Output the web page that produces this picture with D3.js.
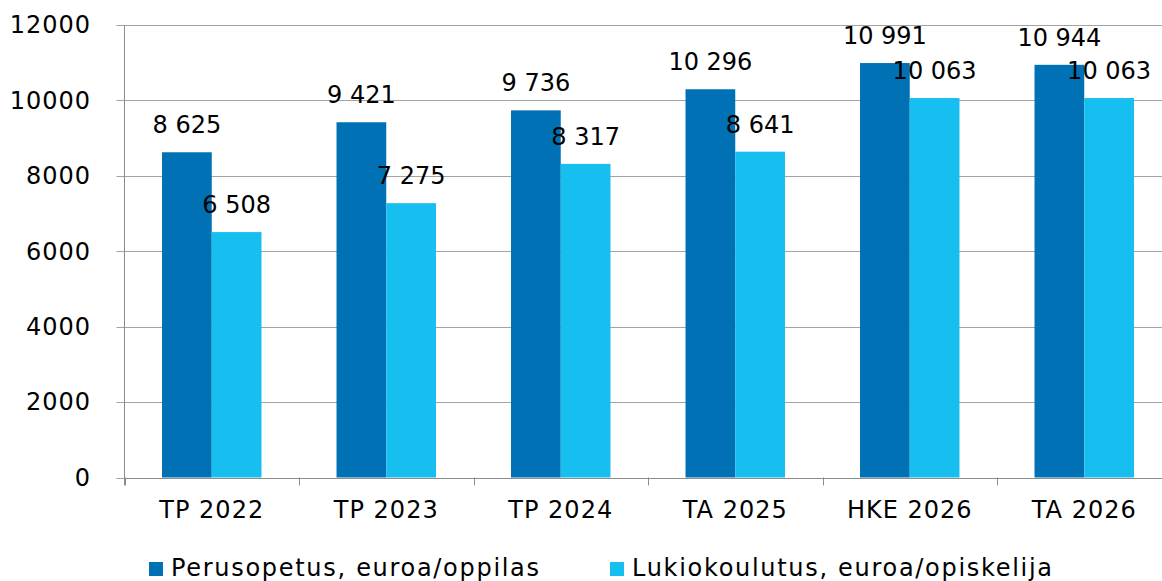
<!DOCTYPE html>
<html>
<head>
<meta charset="utf-8">
<script src="https://cdn.jsdelivr.net/npm/d3@7"></script>
<style>
	body { margin: 0; background: #fff; }
	text { font-family: "DejaVu Sans", sans-serif; fill: #000; }
</style>
</head>
<body>
<div id="container"></div>
<script>

var categories = ["TP 2022", "TP 2023", "TP 2024", "TA 2025", "HKE 2026", "TA 2026"];
var seriesNames = ["Perusopetus, euroa/oppilas", "Lukiokoulutus, euroa/opiskelija"];
var perusopetus = [8625, 9421, 9736, 10296, 10991, 10944];
var lukiokoulutus = [6508, 7275, 8317, 8641, 10063, 10063];
var yTicks = [0, 2000, 4000, 6000, 8000, 10000, 12000];
var colors = ["#0071b5", "#16bfef"];


function drawgrid(svg, x, y) {
	// horizontal gridlines incl. the little tick stubs left of the axis
	svg.selectAll("gridline")
	   .data(yTicks)
	   .enter()
	   .append("line")
	   .attr("x1", x.range()[0] - 8)
	   .attr("x2", x.range()[1])
	   .attr("y1", function(d) { return Math.round(y(d)) + 0.5 })
	   .attr("y2", function(d) { return Math.round(y(d)) + 0.5 })
	   .attr("stroke", "#a3a3a3")
	   .attr("stroke-width", 1);

	svg.selectAll("ylabel")
	   .data(yTicks)
	   .enter()
	   .append("text")
	   .attr("x", 91)
	   .attr("y", function(d) { return y(d) })
	   .attr("dy", "0.35em")
	   .attr("text-anchor", "end")
	   .attr("font-size", 24)
	   .attr("letter-spacing", 1)
	   .text(function(d) { return d });

	// y axis line
	svg.append("line")
	   .attr("x1", x.range()[0]).attr("x2", x.range()[0])
	   .attr("y1", y(12000)).attr("y2", y(0) + 8)
	   .attr("stroke", "#8c8c8c");
};


function drawxaxis(svg, x, y) {
	var step = x.step();
	var bounds = d3.range(categories.length + 1).map(function(i) { return x.range()[0] + i * step });
	svg.append("line")
	   .attr("x1", x.range()[0]).attr("x2", x.range()[1])
	   .attr("y1", Math.round(y(0)) + 0.5).attr("y2", Math.round(y(0)) + 0.5)
	   .attr("stroke", "#8c8c8c");
	svg.selectAll("xtick")
	   .data(bounds)
	   .enter()
	   .append("line")
	   .attr("x1", function(d) { return Math.round(d) + 0.5 })
	   .attr("x2", function(d) { return Math.round(d) + 0.5 })
	   .attr("y1", y(0))
	   .attr("y2", y(0) + 8)
	   .attr("stroke", "#8c8c8c");
	svg.selectAll("xlabel")
	   .data(categories)
	   .enter()
	   .append("text")
	   .attr("x", function(d) { return x(d) + x.bandwidth() / 2 })
	   .attr("y", 518)
	   .attr("text-anchor", "middle")
	   .attr("font-size", 24)
	   .attr("letter-spacing", 1)
	   .text(function(d) { return d });
};


function drawbars(svg, x, x1, y, values, si) {
	var fmt = d3.formatLocale({decimal: ",", thousands: "\u00a0", grouping: [3], currency: ["", "€"]}).format(",d");
	svg.selectAll("bar" + si)
	   .data(values)
	   .enter()
	   .append("rect")
	   .attr("x", function(d, i) { return x(categories[i]) + x1(si) })
	   .attr("y", function(d) { return y(d) })
	   .attr("width", x1.bandwidth())
	   .attr("height", function(d) { return y(0) - y(d) })
	   .attr("fill", colors[si]);
	svg.selectAll("barlabel" + si)
	   .data(values)
	   .enter()
	   .append("text")
	   .attr("x", function(d, i) { return x(categories[i]) + x1(si) + x1.bandwidth() / 2 })
	   .attr("y", function(d) { return y(d) - 19 })
	   .attr("text-anchor", "middle")
	   .attr("font-size", 24)
	   .text(function(d) { return fmt(d) });
};


function drawlegend(svg) {
	var xs = [149, 610];
	var g = svg.selectAll("legend")
	   .data(seriesNames)
	   .enter()
	   .append("g");
	g.append("rect")
	   .attr("x", function(d, i) { return xs[i] })
	   .attr("y", 562)
	   .attr("width", 14)
	   .attr("height", 14)
	   .attr("fill", function(d, i) { return colors[i] });
	g.append("text")
	   .attr("x", function(d, i) { return xs[i] + 22 })
	   .attr("y", 576)
	   .attr("font-size", 24)
	   .attr("letter-spacing", 1.7)
	   .text(function(d) { return d });
};


function main() {
	var svg = d3.select("#container")
	   .append("svg")
	   .attr("width", 1162)
	   .attr("height", 581);

	var x = d3.scaleBand()
	   .domain(categories)
	   .range([124.5, 124.5 + 6 * 174.5])
	   .paddingInner(0.43)
	   .paddingOuter(0.215);
	var x1 = d3.scaleBand()
	   .domain([0, 1])
	   .range([0, x.bandwidth()]);
	var y = d3.scaleLinear()
	   .domain([0, 12000])
	   .range([477.5, 25]);

	drawgrid(svg, x, y);
	drawbars(svg, x, x1, y, perusopetus, 0);
	drawbars(svg, x, x1, y, lukiokoulutus, 1);
	drawxaxis(svg, x, y);
	drawlegend(svg);
};


main()

</script>
</body>
</html>
